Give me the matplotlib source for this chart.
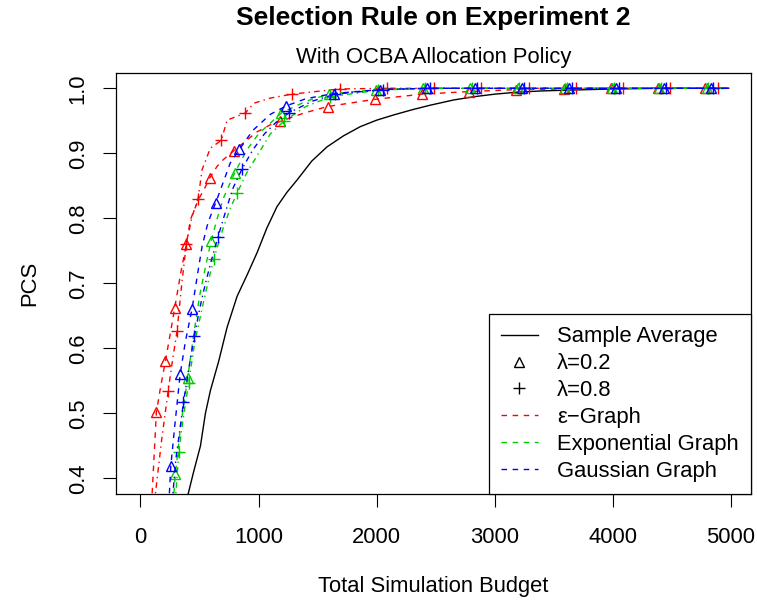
#!/usr/bin/python3

# PCS vs total simulation budget, selection rule on experiment 2 (OCBA).

import matplotlib
matplotlib.use("Agg")
import matplotlib.pyplot as plt
from matplotlib.lines import Line2D

plt.rcParams["font.family"] = ["Liberation Sans", "DejaVu Sans"]
font_size = 15.8
plt.rc("font", size=font_size)

RED, GREEN, BLUE = "#FF0000", "#00CD00", "#0000FF"

# sample average (black solid)
avg_x = [405, 450, 508, 550, 592, 662, 733, 818, 903, 987, 1070, 1156, 1240,
         1326, 1450, 1580, 1720, 1861, 2000, 2143, 2300, 2453, 2650, 2820,
         3000, 3187, 3400, 3580, 3800, 4000, 4400, 4980]
avg_y = [0.377, 0.41, 0.45, 0.50, 0.535, 0.58, 0.632, 0.68, 0.713, 0.747,
         0.785, 0.818, 0.84, 0.859, 0.888, 0.910, 0.927, 0.941, 0.951, 0.959,
         0.967, 0.974, 0.982, 0.987, 0.991, 0.994, 0.996, 0.997, 0.998, 0.999,
         1.0, 1.0]

# eps-graph, lambda=0.2
eps02_x = [99, 135, 170, 211, 250, 290, 340, 389, 423, 491, 540, 586, 649,
           700, 790, 987, 1100, 1184, 1385, 1585, 1983, 2383, 2783, 3183,
           3583, 3983, 4383, 4980]
eps02_y = [0.377, 0.502, 0.54, 0.580, 0.62, 0.662, 0.715, 0.761, 0.798, 0.829,
           0.845, 0.862, 0.880, 0.89, 0.904, 0.933, 0.944, 0.949, 0.962, 0.972,
           0.983, 0.991, 0.995, 0.998, 0.999, 1.0, 1.0, 1.0]
eps02_mx = [135, 211, 290, 389, 586, 790, 1184, 1585, 1983, 2383, 2783, 3183,
            3583, 3983, 4383, 4783]
eps02_my = [0.502, 0.580, 0.662, 0.761, 0.862, 0.904, 0.949, 0.972, 0.983,
            0.991, 0.995, 0.998, 0.999, 1.0, 1.0, 1.0]

# eps-graph, lambda=0.8
eps08_x = [127, 180, 234, 270, 310, 350, 389, 437, 488, 522, 592, 685, 733,
           888, 959, 1100, 1283, 1686, 2086, 4980]
eps08_y = [0.377, 0.46, 0.534, 0.58, 0.627, 0.70, 0.761, 0.803, 0.830, 0.875,
           0.908, 0.920, 0.951, 0.962, 0.977, 0.985, 0.991, 0.999, 1.0, 1.0]
eps08_mx = [234, 310, 389, 488, 685, 888, 1283, 1686, 2086, 2486, 2886, 3286,
            3686, 4086, 4486, 4886]
eps08_my = [0.534, 0.627, 0.761, 0.830, 0.920, 0.962, 0.991, 0.999, 1.0, 1.0,
            1.0, 1.0, 1.0, 1.0, 1.0, 1.0]

# exponential graph, lambda=0.2
exp02_x = [283, 296, 340, 400, 450, 500, 550, 598, 650, 700, 798, 900, 1000,
           1193, 1400, 1593, 1993, 2393, 4980]
exp02_y = [0.377, 0.407, 0.48, 0.555, 0.62, 0.68, 0.725, 0.765, 0.80, 0.83,
           0.870, 0.905, 0.93, 0.962, 0.98, 0.991, 0.998, 1.0, 1.0]
exp02_mx = [296, 400, 598, 798, 1193, 1593, 1993, 2393, 2793, 3193, 3593,
            3993, 4393, 4793]
exp02_my = [0.407, 0.555, 0.765, 0.870, 0.962, 0.991, 0.998, 1.0, 1.0, 1.0,
            1.0, 1.0, 1.0, 1.0]

# exponential graph, lambda=0.8
exp08_x = [300, 324, 360, 408, 460, 520, 570, 620, 700, 760, 818, 900, 1000,
           1100, 1212, 1400, 1607, 2007, 2407, 4980]
exp08_y = [0.377, 0.441, 0.49, 0.547, 0.61, 0.66, 0.70, 0.737, 0.785, 0.815,
           0.839, 0.87, 0.90, 0.93, 0.949, 0.972, 0.987, 0.997, 1.0, 1.0]
exp08_mx = [324, 408, 620, 818, 1212, 1607, 2007, 2407, 2807, 3207, 3607,
            4007, 4407, 4807]
exp08_my = [0.441, 0.547, 0.737, 0.839, 0.949, 0.987, 0.997, 1.0, 1.0, 1.0,
            1.0, 1.0, 1.0, 1.0]

# gaussian graph, lambda=0.2
gau02_x = [245, 257, 290, 336, 380, 437, 485, 522, 564, 592, 637, 700, 760,
           838, 950, 1100, 1235, 1400, 1636, 2030, 2430, 4980]
gau02_y = [0.377, 0.419, 0.48, 0.560, 0.61, 0.661, 0.716, 0.757, 0.788, 0.803,
           0.824, 0.855, 0.885, 0.906, 0.935, 0.96, 0.973, 0.984, 0.992, 0.998,
           1.0, 1.0]
gau02_mx = [257, 336, 437, 637, 838, 1235, 1636, 2030, 2430, 2830, 3230,
            3630, 4030, 4430, 4830]
gau02_my = [0.419, 0.560, 0.661, 0.824, 0.906, 0.973, 0.992, 0.998, 1.0, 1.0,
            1.0, 1.0, 1.0, 1.0, 1.0]

# gaussian graph, lambda=0.8
gau08_x = [275, 300, 330, 364, 410, 457, 500, 550, 600, 657, 720, 780, 860,
           950, 1050, 1150, 1255, 1450, 1650, 2050, 2450, 4980]
gau08_y = [0.377, 0.43, 0.47, 0.517, 0.57, 0.619, 0.66, 0.70, 0.735, 0.772,
           0.81, 0.845, 0.876, 0.905, 0.93, 0.948, 0.962, 0.98, 0.991, 0.998,
           1.0, 1.0]
gau08_mx = [364, 457, 657, 860, 1255, 1650, 2050, 2450, 2850, 3250, 3650,
            4050, 4450, 4850]
gau08_my = [0.517, 0.619, 0.772, 0.876, 0.962, 0.991, 0.998, 1.0, 1.0, 1.0,
            1.0, 1.0, 1.0, 1.0]

x_ticks = [0, 1000, 2000, 3000, 4000, 5000]
y_ticks = [0.4, 0.5, 0.6, 0.7, 0.8, 0.9, 1.0]
legend_labels = ["Sample Average", "λ=0.2", "λ=0.8", "ε−Graph",
                 "Exponential Graph", "Gaussian Graph"]

DASH = (4, 4)
DOTDASH = (1, 3, 4, 3)
LW = 1.0
TRI_MS = 7
PLUS_MS = 9

fig = plt.figure(figsize=(7.57, 6.04), dpi=100)
ax = fig.add_axes([116 / 757, 110 / 604, 635 / 757, 421.3 / 604])

ax.plot(avg_x, avg_y, color="black", lw=LW)

series = [
    (eps02_x, eps02_y, eps02_mx, eps02_my, RED, DASH, "^"),
    (eps08_x, eps08_y, eps08_mx, eps08_my, RED, DOTDASH, "+"),
    (exp02_x, exp02_y, exp02_mx, exp02_my, GREEN, DASH, "^"),
    (exp08_x, exp08_y, exp08_mx, exp08_my, GREEN, DOTDASH, "+"),
    (gau02_x, gau02_y, gau02_mx, gau02_my, BLUE, DASH, "^"),
    (gau08_x, gau08_y, gau08_mx, gau08_my, BLUE, DOTDASH, "+"),
]
for lx, ly, mx, my, color, dashes, marker in series:
    ax.plot(lx, ly, color=color, lw=LW, dashes=dashes)
    if marker == "^":
        ax.plot(mx, my, ls="none", marker="^", ms=TRI_MS, mfc="none", mec=color, mew=1.0)
    else:
        ax.plot(mx, my, ls="none", marker="+", ms=PLUS_MS, mec=color, mew=1.0)

ax.set_xlim(-207, 5169)
ax.set_ylim(0.376, 1.024)
ax.set_xticks(x_ticks)
ax.set_yticks(y_ticks)
ax.set_yticklabels([f"{v:.1f}" for v in y_ticks], rotation=90, va="center")
ax.tick_params(length=9.6, width=0.8, pad=14)
ax.tick_params(axis="y", pad=10)
for s in ax.spines.values():
    s.set_linewidth(0.9)

ax.set_xlabel("Total Simulation Budget", labelpad=20)
ax.set_ylabel("PCS", labelpad=20)

fig.text(433.5 / 757, 1 - 18 / 604, "Selection Rule on Experiment 2",
         ha="center", va="center", fontsize=font_size * 1.2, fontweight="bold")
fig.text(433.5 / 757, 1 - 58 / 604, "With OCBA Allocation Policy",
         ha="center", va="center")

handles = [
    Line2D([], [], color="black", lw=LW),
    Line2D([], [], ls="none", marker="^", ms=TRI_MS, mfc="none", mec="black", mew=1.0),
    Line2D([], [], ls="none", marker="+", ms=PLUS_MS, mec="black", mew=1.0),
    Line2D([], [], color=RED, lw=LW, dashes=DASH),
    Line2D([], [], color=GREEN, lw=LW, dashes=DASH),
    Line2D([], [], color=BLUE, lw=LW, dashes=DASH),
]
leg = ax.legend(handles, legend_labels, loc="lower right", bbox_to_anchor=(1, 0),
                borderaxespad=0, fancybox=False, framealpha=1, edgecolor="black",
                handlelength=1.65, handletextpad=0.9, labelspacing=0.27,
                borderpad=0.55)
leg.get_frame().set_linewidth(0.9)

fig.savefig("out.png", dpi=100)
